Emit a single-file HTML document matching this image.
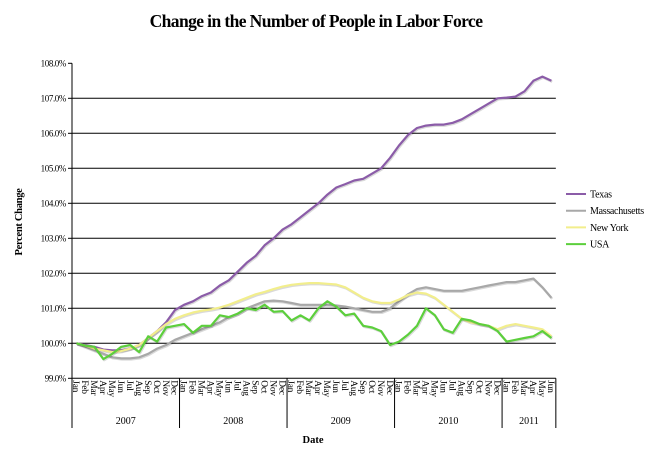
<!DOCTYPE html>
<html><head><meta charset="utf-8"><style>
html,body{margin:0;padding:0;background:#fff;}
svg{display:block;font-family:"Liberation Serif",serif;}
</style></head><body>
<svg id="chart" width="663" height="450" viewBox="0 0 663 450">
<text x="316" y="27" text-anchor="middle" font-size="17.5" font-weight="bold" letter-spacing="-0.6">Change in the Number of People in Labor Force</text>
<text transform="translate(22,222) rotate(-90)" text-anchor="middle" font-size="10.5" font-weight="bold" letter-spacing="-0.3">Percent Change</text>
<text x="313" y="443" text-anchor="middle" font-size="10.5" font-weight="bold">Date</text>
<g id="grid"></g><g id="series"></g><g id="axes"></g><g id="legend"></g>
</svg>
<script>
const years = ["2007","2008","2009","2010","2011"];
const months = ["Jan","Feb","Mar","Apr","May","Jun","Jul","Aug","Sep","Oct","Nov","Dec"];
const yTicks = [99,100,101,102,103,104,105,106,107,108];
const seriesNames = ["Texas","Massachusetts","New York","USA"];
const seriesColors = ["#8b5ca8","#a8a8a8","#f2ee8c","#5ccf3c"];
const texas = [100.0,99.95,99.9,99.82,99.8,99.8,99.85,99.95,100.15,100.35,100.6,100.95,
101.1,101.2,101.35,101.45,101.65,101.8,102.05,102.3,102.5,102.8,103.0,103.25,
103.4,103.6,103.8,104.0,104.25,104.45,104.55,104.65,104.7,104.85,105.0,105.3,
105.65,105.95,106.15,106.22,106.25,106.25,106.3,106.4,106.55,106.7,106.85,107.0,
107.02,107.05,107.2,107.5,107.62,107.5];
const massachusetts = [100.0,99.9,99.8,99.7,99.6,99.57,99.57,99.6,99.7,99.85,99.95,100.1,
100.2,100.3,100.4,100.5,100.6,100.75,100.85,101.0,101.1,101.2,101.22,101.2,
101.15,101.1,101.1,101.1,101.1,101.08,101.05,101.0,100.95,100.9,100.9,101.0,
101.2,101.4,101.55,101.6,101.55,101.5,101.5,101.5,101.55,101.6,101.65,101.7,
101.75,101.75,101.8,101.85,101.6,101.3];
const newYork = [100.0,99.93,99.85,99.8,99.75,99.78,99.85,99.95,100.15,100.35,100.55,100.7,
100.8,100.88,100.93,100.97,101.02,101.1,101.2,101.3,101.4,101.47,101.55,101.62,
101.67,101.7,101.72,101.72,101.7,101.68,101.6,101.45,101.3,101.2,101.15,101.15,
101.25,101.38,101.45,101.42,101.3,101.1,100.9,100.7,100.6,100.55,100.5,100.4,
100.5,100.55,100.5,100.45,100.4,100.2];
const usa = [100.0,99.93,99.9,99.55,99.7,99.9,99.95,99.75,100.2,100.05,100.45,100.5,
100.55,100.3,100.5,100.5,100.8,100.75,100.85,101.0,100.95,101.1,100.9,100.92,
100.65,100.8,100.65,101.0,101.2,101.05,100.8,100.85,100.5,100.45,100.35,99.95,
100.05,100.25,100.5,101.0,100.8,100.4,100.3,100.7,100.65,100.55,100.5,100.35,
100.05,100.1,100.15,100.2,100.35,100.15];
const allSeries = [texas,massachusetts,newYork,usa];

const NS="http://www.w3.org/2000/svg";
const X0=72, MW=8.96, Y0=343.3, PY=35;
const nMonths = texas.length;
const xPos = i => X0 + (i+0.5)*MW;
const yPos = v => Y0 - (v-100)*PY;
const xEnd = X0 + nMonths*MW;
function mk(tag, attrs, parent){const e=document.createElementNS(NS,tag);for(const k in attrs)e.setAttribute(k,attrs[k]);parent.appendChild(e);return e;}
const grid=document.getElementById('grid'), axes=document.getElementById('axes'), ser=document.getElementById('series'), leg=document.getElementById('legend');

yTicks.forEach(t=>{
  const y=yPos(t);
  if(t>99 && t<108){const l=mk('line',{x1:X0,x2:xEnd,y1:y,y2:y,stroke:'#000','stroke-width':1},grid);
  
  }
  const tk=mk('line',{x1:X0-4,x2:X0,y1:y,y2:y,stroke:'#000'},axes);
  
  
  const tx=mk('text',{x:X0-6,y:y+3,'text-anchor':'end','font-size':9,'letter-spacing':'-0.4'},axes);
  tx.textContent=t.toFixed(1)+'%';
  
  
});
const ya=mk('line',{x1:X0,x2:X0,y1:yPos(108),y2:yPos(99),stroke:'#000'},axes);


const xa=mk('line',{x1:X0,x2:xEnd,y1:yPos(99),y2:yPos(99),stroke:'#000'},axes);



for(let i=0;i<nMonths;i++){
  const x=xPos(i);
  const t=mk('text',{transform:`translate(${x-3.3},${yPos(99)+2}) rotate(90)`,'font-size':9.5,'letter-spacing':'-0.3'},axes);
  t.textContent=months[i%12];
  
  
}
for(let y=0;y<=years.length;y++){
  const x=Math.min(X0+y*12*MW,xEnd);
  const l=mk('line',{x1:x,x2:x,y1:yPos(99),y2:428,stroke:'#000'},axes);
  
  
}
years.forEach((yr,k)=>{
  const s=X0+k*12*MW, e=Math.min(s+12*MW,xEnd);
  const t=mk('text',{x:(s+e)/2,y:424,'text-anchor':'middle','font-size':10},axes);
  t.textContent=yr;
  
  
});

allSeries.forEach((d,s)=>{
  const pts=d.map((v,i)=>xPos(i).toFixed(1)+','+yPos(v).toFixed(1)).join(' ');
  const sh=mk('polyline',{points:pts,fill:'none',stroke:'rgba(0,0,0,0.15)','stroke-width':2.5,transform:'translate(0.8,1)','stroke-linejoin':'round'},ser);
  
  
  const p=mk('polyline',{points:pts,fill:'none',stroke:seriesColors[s],'stroke-width':2.2,'stroke-linejoin':'round'},ser);
  
  
});

seriesNames.forEach((n,s)=>{
  const y=194+s*16.7;
  const g=mk('g',{},leg);
  
  
  mk('line',{x1:566,x2:586,y1:y,y2:y,stroke:seriesColors[s],'stroke-width':2},g);
  const t=mk('text',{x:590,y:y+3.5,'font-size':10,'letter-spacing':'-0.3'},g);
  t.textContent=n;
});
</script>
</body></html>
